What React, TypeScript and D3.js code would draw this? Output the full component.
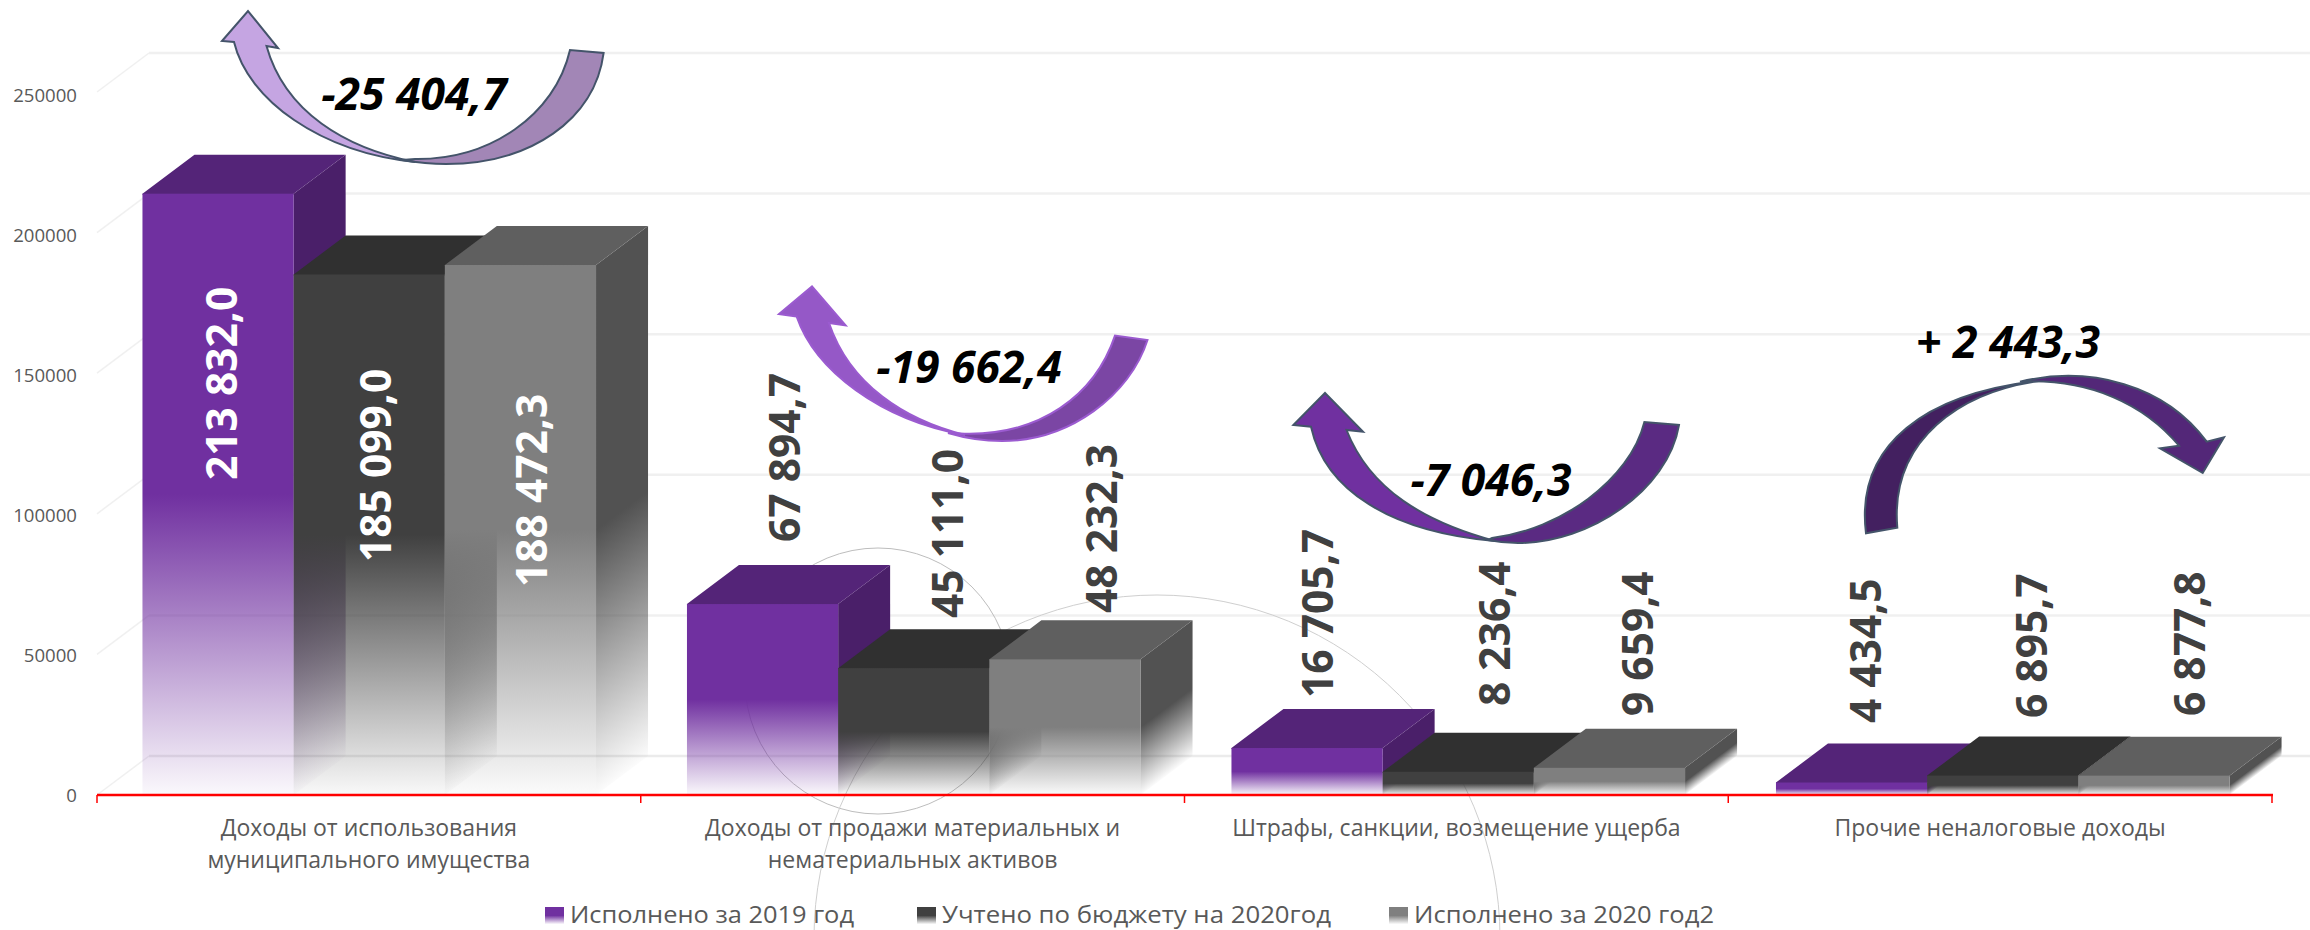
import React from "react";
import * as d3 from "d3";

const categories = [
  ["Доходы от использования", "муниципального имущества"],
  ["Доходы от продажи материальных и", "нематериальных активов"],
  ["Штрафы, санкции, возмещение ущерба"],
  ["Прочие неналоговые доходы"],
];
const seriesNames = ["Исполнено за 2019 год", "Учтено по бюджету на 2020год", "Исполнено за 2020 год2"];
const executed2019 = [213832.0, 67894.7, 16705.7, 4434.5];
const budget2020 = [185099.0, 45111.0, 8236.4, 6895.7];
const executed2020 = [188472.3, 48232.3, 9659.4, 6877.8];
const changes = ["-25 404,7", "-19 662,4", "-7 046,3", "+ 2 443,3"];
const yTicks = [0, 50000, 100000, 150000, 200000, 250000];

// layout, separate from the data
const W = 2310, H = 930;
const DX = 52, DY = 39;
const AXIS_L = 97, AXIS_R = 2272;
const palette = [
  { front: "#7030A0", top: "#542478", side: "#4A1F69" },
  { front: "#404040", top: "#303030", side: "#2E2E2E" },
  { front: "#7F7F7F", top: "#5F5F5F", side: "#525252" },
];
const labelX = [[222, 376, 532], [785, 948, 1102], [1318, 1495, 1638], [1866, 2032, 2190]];
const labelBottom = [[480, 562, 587], [542, 618, 613], [698, 706, 716], [723, 718, 716]];
const changeX = [414, 969, 1491, 2008];
const changeY = [94, 367, 480, 342];
const legendX = [545, 917, 1389];
const legendWidth = [284, 389, 300];

const arrowShapes = [
  {
    back: "#A286B6", front: "#C5A5E2", stroke: "#44546A",
    backD: "M603.6,53C595,120 530,164 446,164C430,164 420,163 402,160L415,159C490,160 555,115 570,50Z",
    frontD: "M234,42C248,100 320,152 415,162C345,148 285,112 266.5,46L278,48L248,11L222,41Z",
  },
  {
    back: "#7B46A4", front: "#9558C7", stroke: "#9B5BD0",
    backD: "M1147.5,340C1130,395 1070,441 1002,441C985,441 965,438 948,433L960,433.5C1040,437 1095,395 1115,335.6Z",
    frontD: "M796.6,316.4C815,370 880,420 965,435C905,420 850,385 829,323L845.6,325.4L812,286.5L779,314Z",
  },
  {
    back: "#5A2A82", front: "#7030A0", stroke: "#44546A",
    backD: "M1679,425C1668,490 1590,543 1518,543C1508,543 1498,542 1488,540L1492,538C1560,530 1630,480 1644.4,422Z",
    frontD: "M1311,426.7C1325,490 1390,532 1495,541C1425,522 1370,490 1346.5,430L1363,431.7L1325,393L1293.4,425Z",
  },
  {
    back: "#432060", front: "#532778", stroke: "#44546A",
    backD: "M1866,533.3C1855,445 1925,392 2046,380C1960,390 1890,440 1897.3,527.7Z",
    frontD: "M2020,381.7C2090,365 2165,385 2206.7,441.7L2224,437.3L2202.7,473L2160,448.3L2179,445.7C2145,405 2090,378 2020,381.7Z",
  },
];

const fmt = d3.formatLocale({ decimal: ",", thousands: " ", grouping: [3], currency: ["", ""] }).format(",.1f");

export default function App() {
  const y = d3.scaleLinear().domain([0, 250000]).range([795, 92]);
  const yLabel = d3.scaleLinear().domain([0, 250000]).range([795, 95]);
  const x0 = d3.scaleBand<number>().domain([0, 1, 2, 3]).range([97, 2275]).paddingInner(0.167).paddingOuter(0.0835);
  const x1 = d3.scaleBand<number>().domain([0, 1, 2]).range([0, x0.bandwidth()]);
  const tickX = d3.scaleLinear().domain([0, 4]).range([AXIS_L, AXIS_R]);
  const series = [executed2019, budget2020, executed2020];
  const gridColor = "#f0f0f0";
  const textColor = "#595959";
  const font = "'Open Sans', sans-serif";

  const sideId = (g: number, s: number) => `side-${g}-${s}`;
  const w = x1.bandwidth();

  return (
    <svg width={W} height={H} viewBox={`0 0 ${W} ${H}`} style={{ position: "absolute", left: 0, top: 0, display: "block", background: "#fff" }}>
      <defs>
        {palette.map((c, s) => (
          <linearGradient key={s} id={`front-${s}`} x1="0" y1="0" x2="0" y2="1">
            <stop offset="0" stopColor={c.front} />
            <stop offset="0.5" stopColor={c.front} />
            <stop offset="1" stopColor={c.front} stopOpacity={0.03} />
          </linearGradient>
        ))}
        {categories.map((_, g) =>
          series.map((vals, s) => {
            const px = x0(g)! + x1(s)! + w;
            const top = y(vals[g]);
            const h = y(0) - top;
            return (
              <linearGradient key={`${g}-${s}`} id={sideId(g, s)} gradientUnits="userSpaceOnUse"
                x1={px} y1={top} x2={px + 0.6 * 0.8 * h} y2={top + 0.8 * 0.8 * h}>
                <stop offset="0" stopColor={palette[s].side} />
                <stop offset="0.5" stopColor={palette[s].side} />
                <stop offset="1" stopColor={palette[s].side} stopOpacity={0.02} />
              </linearGradient>
            );
          })
        )}
      </defs>

      {/* walls */}
      {yTicks.map((t) => (
        <g key={t} fill="none" stroke={gridColor} strokeWidth={2.5}>
          <line x1={AXIS_L} y1={y(t)} x2={AXIS_L + DX} y2={y(t) - DY} strokeWidth={1.5} />
          <line x1={AXIS_L + DX} y1={y(t) - DY} x2={W} y2={y(t) - DY} stroke={t === 0 ? "#ebebeb" : gridColor} />
        </g>
      ))}

      {/* thin decorative circles */}
      <circle cx={878} cy={681} r={133} fill="none" stroke="#bdbdbd" strokeWidth={1} />
      <circle cx={1157} cy={938} r={343} fill="none" stroke="#cfcfcf" strokeWidth={1} />

      {/* bars */}
      {categories.map((_, g) =>
        series.map((vals, s) => {
          const px = x0(g)! + x1(s)!;
          const top = y(vals[g]);
          const base = y(0);
          return (
            <g key={`${g}-${s}`}>
              <path d={`M${px + w},${top}L${px + w + DX},${top - DY}L${px + w + DX},${base - DY}L${px + w},${base}Z`} fill={`url(#${sideId(g, s)})`} />
              <path d={`M${px},${top + 1}L${px},${top}L${px + DX},${top - DY}L${px + w + DX},${top - DY}L${px + w},${top}L${px + w},${top + 1}Z`} fill={palette[s].top} />
              <rect x={px} y={top} width={w} height={base - top} fill={`url(#front-${s})`} />
            </g>
          );
        })
      )}

      {/* axis */}
      <line x1={AXIS_L} y1={y(0)} x2={AXIS_R + 1} y2={y(0)} stroke="#ff0000" strokeWidth={2.5} />
      {d3.range(5).map((i) => (
        <line key={i} x1={tickX(i)} y1={y(0)} x2={tickX(i)} y2={y(0) + 8} stroke="#ff0000" strokeWidth={1.5} />
      ))}
      {yTicks.map((t) => (
        <text key={t} x={77} y={yLabel(t)} dy="0.36em" textAnchor="end" fontFamily={font} fontSize={18.6} fill={textColor}>{t}</text>
      ))}
      {categories.map((lines, g) =>
        lines.map((l, i) => (
          <text key={l} x={tickX(g + 0.5)} y={836 + i * 32} textAnchor="middle" fontFamily={font} fontSize={23} fill={textColor}>{l}</text>
        ))
      )}

      {/* arrows */}
      {arrowShapes.map((a, i) => (
        <g key={i} stroke={a.stroke} strokeWidth={2} strokeLinejoin="miter">
          <path d={a.backD} fill={a.back} />
          <path d={a.frontD} fill={a.front} />
        </g>
      ))}

      {/* value labels */}
      {categories.map((_, g) =>
        series.map((vals, s) => {
          const size = 42.5;
          return (
            <text key={`${g}-${s}`} transform={`translate(${labelX[g][s] + 0.357 * size},${labelBottom[g][s]}) rotate(-90)`}
              fontFamily={font} fontWeight={700} fontSize={size} fill={g === 0 ? "#ffffff" : "#404040"}>
              {fmt(vals[g])}
            </text>
          );
        })
      )}

      {/* change labels */}
      {changes.map((c, i) => (
        <text key={c} x={changeX[i]} y={changeY[i]} dy="0.357em" textAnchor="middle" fontFamily={font} fontWeight={700} fontStyle="italic" fontSize={44.5} fill="#000">{c}</text>
      ))}

      {/* legend */}
      {seriesNames.map((n, i) => (
        <g key={n}>
          <rect x={legendX[i]} y={907} width={19} height={17} fill={`url(#front-${i})`} />
          <text x={legendX[i] + 25} y={923} fontFamily={font} fontSize={23} textLength={legendWidth[i]} lengthAdjust="spacingAndGlyphs" fill={textColor}>{n}</text>
        </g>
      ))}
    </svg>
  );
}
